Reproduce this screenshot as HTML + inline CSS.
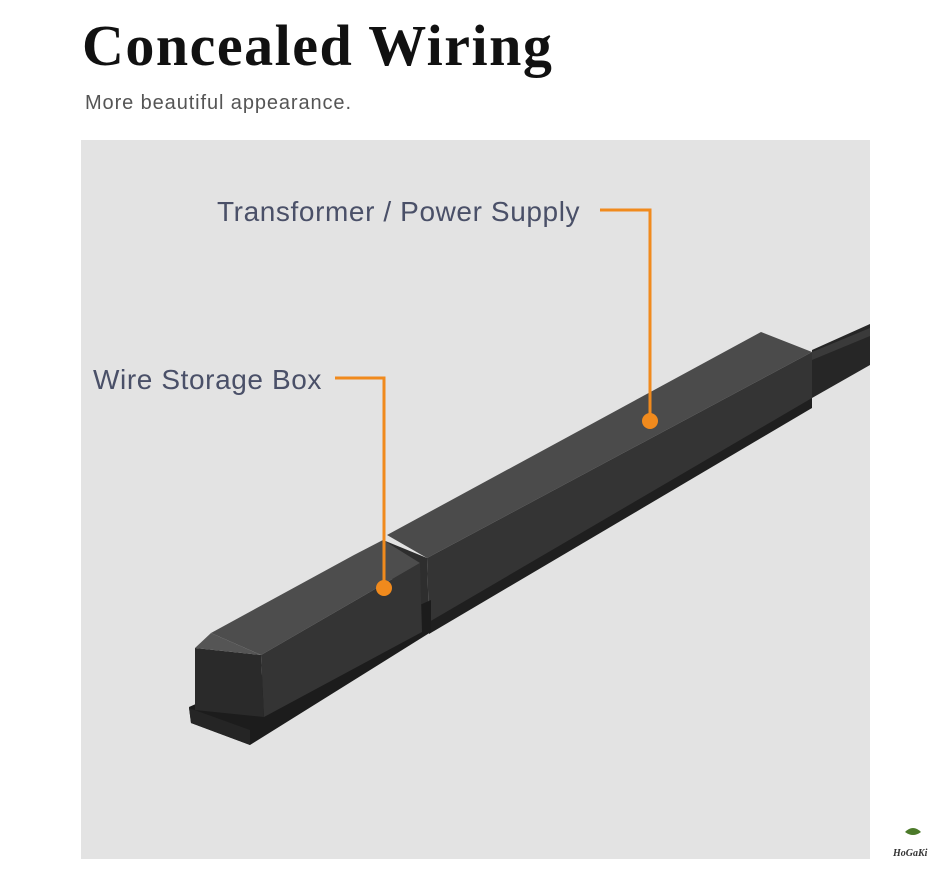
<!DOCTYPE html>
<html><head><style>
body{margin:0;width:950px;height:876px;background:#fff;position:relative;overflow:hidden;font-family:"Liberation Sans",sans-serif}
.t{position:absolute;left:82px;top:12px;font-family:"Liberation Serif",serif;font-weight:bold;font-size:58px;color:#111;letter-spacing:1.5px}
.s{position:absolute;left:85px;top:92px;font-size:20px;color:#555;letter-spacing:0.9px}
</style></head><body>
<div class="t">Concealed Wiring</div>
<div class="s">More beautiful appearance.</div>
<svg width="950" height="876" style="position:absolute;left:0;top:0">
<rect x="81" y="140" width="789" height="719" fill="#e3e3e3"/>
<!-- rail tail -->
<polygon points="812,350 870,324 870,365 812,398" fill="#262626"/>
<polygon points="812,352 870,328 870,336 812,360" fill="#3a3a3a"/>
<!-- rail base under transformer -->
<polygon points="429,620 812,396 812,408 429,634" fill="#1f1f1f"/>
<!-- transformer -->
<polygon points="387,535 761,332 812,352 427,558" fill="#4b4b4b"/>
<polygon points="427,558 812,352 812,398 429,622" fill="#343434"/>
<polygon points="383,540 427,558 429,622 400,610" fill="#2e2e2e"/>
<!-- storage box base -->
<polygon points="189,707 431,600 431,632 250,745 191,723" fill="#1c1c1c"/>
<polygon points="189,708 250,730 250,745 191,723" fill="#252525"/>
<!-- storage box -->
<polygon points="211,633 354,555 383,540 420,563 261,655" fill="#4d4d4d"/>
<polygon points="261,655 420,563 422,632 264,717" fill="#343434"/>
<polygon points="195,648 261,655 264,717 195,710" fill="#2a2a2a"/>
<polygon points="211,633 261,655 195,648" fill="#555"/>
<!-- callouts -->
<g stroke="#f08a1d" stroke-width="3" fill="none">
<polyline points="600,210 650,210 650,421"/>
<polyline points="335,378 384,378 384,588"/>
</g>
<circle cx="650" cy="421" r="8" fill="#f08a1d"/>
<circle cx="384" cy="588" r="8" fill="#f08a1d"/>
<text x="217" y="221" font-family="Liberation Sans,sans-serif" font-size="28" letter-spacing="0.6" fill="#4a5068">Transformer / Power Supply</text>
<text x="93" y="389" font-family="Liberation Sans,sans-serif" font-size="28" letter-spacing="0.6" fill="#4a5068">Wire Storage Box</text>
<text x="893" y="856" font-family="Liberation Serif,serif" font-style="italic" font-weight="bold" font-size="10" fill="#333">HoGaKi</text>
<path d="M905 832 q8 -8 16 0 q-8 6 -16 0z" fill="#4c7a2a"/>
</svg>
</body></html>
